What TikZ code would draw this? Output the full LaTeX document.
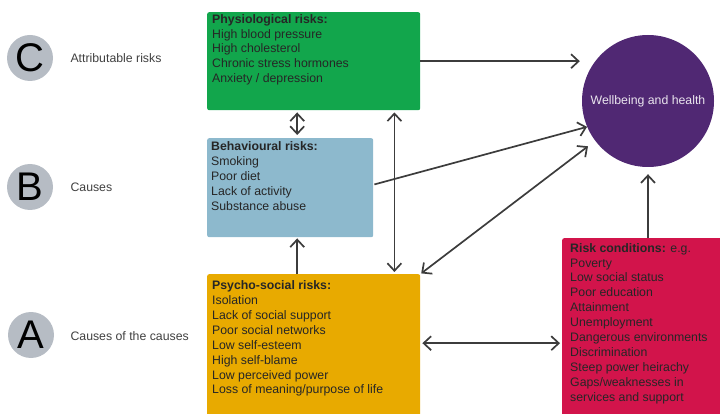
\documentclass[tikz,border=0pt]{standalone}
\usepackage{fontspec}
\setmainfont{Liberation Sans}
\usetikzlibrary{arrows.meta}
\definecolor{physgreen}{HTML}{12A64C}
\definecolor{behavblue}{HTML}{8DB9CD}
\definecolor{psychoyellow}{HTML}{E8AA00}
\definecolor{condred}{HTML}{D2144B}
\definecolor{healthpurple}{HTML}{502873}
\definecolor{levelgrey}{HTML}{B6BCC4}
\definecolor{arrowgrey}{HTML}{3C3C3C}
\tikzset{
  risk box/.style={
    rectangle, rounded corners=2pt, anchor=north west, inner sep=0pt, draw=none
  },
  risk text/.style={
    anchor=north west, align=left, inner sep=0pt, text=black!85,
    font=\fontsize{12.3}{14.9}\selectfont
  },
  level dot/.style={
    circle, fill=levelgrey, inner sep=0pt, minimum size=46pt,
    font=\fontsize{40}{40}\selectfont
  },
  level label/.style={
    anchor=west, text=black!75, font=\fontsize{12.3}{14}\selectfont
  },
  flow/.style={
    draw=arrowgrey, line width=1.7pt, -{Straight Barb[length=7.5pt,width=14pt]}
  },
  both flow/.style={
    flow, {Straight Barb[length=7.5pt,width=14pt]}-{Straight Barb[length=7.5pt,width=14pt]}
  }
}

\begin{document}
\begin{tikzpicture}[x=1pt, y=-1pt]
  \useasboundingbox (0,0) rectangle (720,414);

% ------------------------------------------------
% levels C, B, A on the left
% ------------------------------------------------
  \node[level dot]   (lvC)  at (30, 58)  {C};
  \node[level label] (lvCt) at (67, 58)  {Attributable risks};
  \node[level dot]   (lvB)  at (30,187)  {B};
  \node[level label] (lvBt) at (67,187)  {Causes};
  \node[level dot]   (lvA)  at (31,335)  {A};
  \node[level label] (lvAt) at (67,336)  {Causes of the causes};

% ------------------------------------------------
% risk boxes
% ------------------------------------------------
  \node[risk box, fill=physgreen,    minimum width=213pt, minimum height=98pt]  (physio)   at (207, 12) {};
  \node[risk box, fill=behavblue,    minimum width=166pt, minimum height=99pt]  (behav)    at (207,138) {};
  \node[risk box, fill=psychoyellow, minimum width=213pt, minimum height=142pt] (psycho)   at (207,274) {};
  \node[risk box, fill=condred,      minimum width=172pt, minimum height=214pt] (riskcond) at (562,238) {};

  \node[risk text] (physiotxt) at ([shift={(5,2)}]physio.north west)
    {\textbf{Physiological risks:}\\High blood pressure\\High cholesterol\\Chronic stress hormones\\Anxiety / depression};
  \node[risk text] (behavtxt) at ([shift={(4,3.5)}]behav.north west)
    {\textbf{Behavioural risks:}\\Smoking\\Poor diet\\Lack of activity\\Substance abuse};
  \node[risk text] (psychotxt) at ([shift={(5,6.5)}]psycho.north west)
    {\textbf{Psycho-social risks:}\\Isolation\\Lack of social support\\Poor social networks\\Low self-esteem\\High self-blame\\Low perceived power\\Loss of meaning/purpose of life};
  \node[risk text] (condtxt) at ([shift={(8,5)}]riskcond.north west)
    {\textbf{Risk conditions:} e.g.\\Poverty\\Low social status\\Poor education\\Attainment\\Unemployment\\Dangerous environments\\Discrimination\\Steep power heirachy\\Gaps/weaknesses in\\services and support};

% ------------------------------------------------
% outcome
% ------------------------------------------------
  \node[circle, fill=healthpurple, inner sep=0pt, minimum size=132pt,
        text=white!88!healthpurple, font=\fontsize{12.3}{14}\selectfont]
        (wellbeing) at (648,101) {Wellbeing and health};

% ------------------------------------------------
% connectors
% ------------------------------------------------
  \draw[flow] (physio.east) -- ([xshift=-2pt]wellbeing.west |- physio.east);
  \draw[flow, shorten <=1pt] ([yshift=3pt]behav.east) -- (wellbeing.203);
  \draw[flow] (riskcond.north -| wellbeing.south) -- ([yshift=-7pt]wellbeing.south);
  \draw[both flow, shorten <=3pt, shorten >=2pt]
    ([xshift=7pt]behav.north) -- ([xshift=7pt]behav.north |- physio.south);
  \draw[flow, shorten >=1pt]
    ([xshift=7pt]behav.south |- psycho.north) -- ([xshift=7pt]behav.south);
  \draw[both flow, shorten <=2pt, shorten >=2pt]
    ([xshift=-26pt]psycho.north east) -- ([xshift=-26pt]physio.south east);
  \draw[both flow, shorten <=1pt, shorten >=9pt] (psycho.north east) -- (wellbeing.217);
  \draw[both flow, shorten <=2pt, shorten >=2pt]
    ([yshift=2pt]psycho.east) -- ([yshift=2pt]psycho.east -| riskcond.west);
\end{tikzpicture}
\end{document}
